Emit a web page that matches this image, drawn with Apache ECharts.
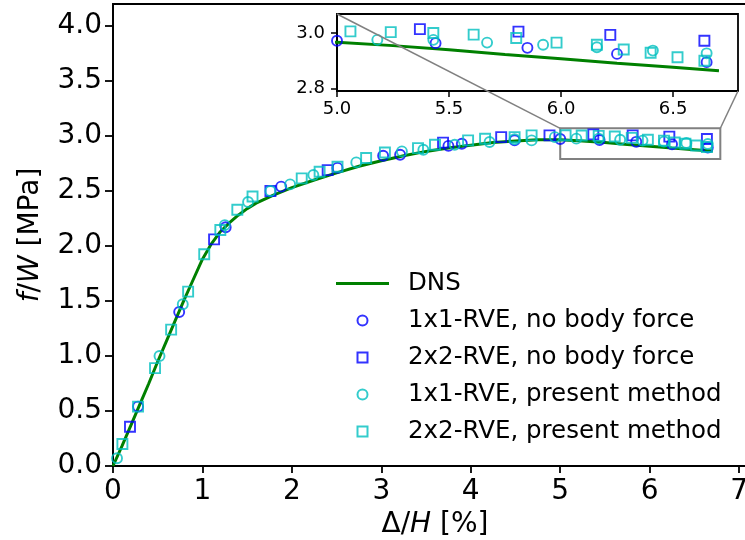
<!DOCTYPE html>
<html>
<head>
<meta charset="utf-8">
<script src="https://cdn.jsdelivr.net/npm/echarts@6/dist/echarts.min.js"></script>
<style>
  html, body { margin: 0; padding: 0; background: #fff; }
  #chart { width: 745px; height: 540px; }
</style>
</head>
<body>
<div id="chart"></div>
<script>
// Reference DNS response: [Δ/H (%), f/W (MPa)]
const dnsCurve = [
  [0, 0], [0.1, 0.18], [0.2, 0.37], [0.3, 0.56], [0.4, 0.75], [0.5, 0.95],
  [0.6, 1.14], [0.7, 1.33], [0.8, 1.52], [0.9, 1.70], [1.0, 1.88], [1.1, 2.02],
  [1.2, 2.13], [1.3, 2.21], [1.4, 2.28], [1.5, 2.34], [1.6, 2.39], [1.8, 2.465],
  [2.0, 2.53], [2.25, 2.6], [2.5, 2.665], [2.75, 2.725], [3.0, 2.775], [3.25, 2.82],
  [3.5, 2.86], [3.75, 2.89], [4.0, 2.915], [4.25, 2.94], [4.5, 2.955], [4.75, 2.965],
  [5.0, 2.967], [5.25, 2.955], [5.5, 2.94], [5.75, 2.923], [6.0, 2.907],
  [6.25, 2.891], [6.5, 2.876], [6.705, 2.864]
];

// 1x1-RVE without body force
const rve1NoBodyForce = [
  [0.28, 0.54], [0.74, 1.40], [1.26, 2.17], [1.88, 2.54], [2.51, 2.71],
  [3.02, 2.82], [3.21, 2.83], [3.75, 2.91], [3.90, 2.93], [4.49, 2.96],
  [5.0, 2.973], [5.44, 2.964], [5.85, 2.947], [6.25, 2.925], [6.65, 2.895]
];

// 2x2-RVE without body force
const rve2NoBodyForce = [
  [0.19, 0.357], [1.13, 2.06], [1.76, 2.50], [2.40, 2.69], [3.69, 2.94],
  [4.34, 2.99], [4.88, 3.006], [5.37, 3.015], [5.81, 3.006], [6.22, 2.994],
  [6.64, 2.973]
];

// 1x1-RVE with the present method
const rve1Present = [
  [0.045, 0.07], [0.52, 1.0], [0.78, 1.47], [1.25, 2.19], [1.51, 2.40],
  [1.76, 2.50], [1.98, 2.56], [2.24, 2.645], [2.72, 2.76], [3.23, 2.86],
  [3.47, 2.875], [3.82, 2.92], [4.21, 2.945], [4.49, 2.97], [4.68, 2.96],
  [4.94, 2.99], [5.18, 2.976], [5.43, 2.976], [5.67, 2.966], [5.92, 2.958],
  [6.16, 2.949], [6.41, 2.937], [6.65, 2.927]
];

// 2x2-RVE with the present method
const rve2Present = [
  [0.105, 0.2], [0.28, 0.54], [0.47, 0.89], [0.65, 1.24], [0.84, 1.585],
  [1.02, 1.925], [1.2, 2.145], [1.39, 2.33], [1.56, 2.45], [2.11, 2.615],
  [2.31, 2.675], [2.51, 2.72], [2.83, 2.80], [3.04, 2.85], [3.41, 2.89],
  [3.60, 2.92], [3.97, 2.96], [4.16, 2.975], [4.49, 2.99], [4.68, 3.006],
  [5.06, 3.007], [5.24, 3.004], [5.43, 3.001], [5.61, 2.995], [5.80, 2.983],
  [5.98, 2.966], [6.16, 2.958], [6.28, 2.941], [6.40, 2.929], [6.52, 2.913],
  [6.64, 2.90]
];

const xTicks = [0, 1, 2, 3, 4, 5, 6, 7];
const yTicks = [0, 0.5, 1.0, 1.5, 2.0, 2.5, 3.0, 3.5, 4.0];
const insetXTicks = [5.0, 5.5, 6.0, 6.5];
const insetYTicks = [2.8, 3.0];
const zoomX = [5.0, 6.79];
const zoomY = [2.79, 3.07];

const FONT = 'DejaVu Sans';
const BLUE = '#0000ff';
const CYAN = '#00bfbf';
const GREEN = '#008000';
const NONE = 'rgba(0,0,0,0)';
const SQUARE_ICON = 'path://M0,0L10,0L10,10L0,10Z';
const LINE_ICON = 'path://M0,0L53,0L53,3L0,3Z';

const names = [
  'DNS',
  '1x1-RVE, no body force',
  '2x2-RVE, no body force',
  '1x1-RVE, present method',
  '2x2-RVE, present method'
];

function scatter(name, data, symbol, color, grid) {
  return {
    type: 'scatter', name, data,
    xAxisIndex: grid, yAxisIndex: grid,
    symbol, symbolSize: 10,
    itemStyle: { color: NONE, borderColor: color, borderWidth: 1.9 },
    emphasis: { disabled: true }, clip: true, z: 3
  };
}

function dnsLine(grid, extra) {
  return Object.assign({
    type: 'line', name: 'DNS', data: dnsCurve,
    xAxisIndex: grid, yAxisIndex: grid,
    showSymbol: false, symbol: 'none',
    lineStyle: { color: GREEN, width: 3 },
    itemStyle: { color: GREEN },
    emphasis: { disabled: true }, clip: true, z: 2
  }, extra || {});
}

function markers(grid) {
  return [
    scatter(names[1], rve1NoBodyForce, 'circle', BLUE, grid),
    scatter(names[2], rve2NoBodyForce, 'rect', BLUE, grid),
    scatter(names[3], rve1Present, 'circle', CYAN, grid),
    scatter(names[4], rve2Present, 'rect', CYAN, grid)
  ];
}

const tickLabel = (size) => ({
  fontFamily: FONT, fontSize: size, color: '#000'
});

const axisLine = { show: true, onZero: false, lineStyle: { color: '#000', width: 1.8 } };

const chart = echarts.init(document.getElementById('chart'), null, { renderer: 'canvas' });

chart.setOption({
  animation: false,
  backgroundColor: '#fff',
  grid: [
    { left: 113, top: 4, width: 644, height: 462, show: true, outerBoundsMode: 'none',
      containLabel: false, borderColor: '#000', borderWidth: 1.8, backgroundColor: NONE },
    { left: 337, top: 14, width: 401, height: 77, show: true, outerBoundsMode: 'none',
      containLabel: false, borderColor: '#000', borderWidth: 1.8, backgroundColor: '#fff', z: 5 }
  ],
  xAxis: [
    { type: 'value', gridIndex: 0, min: 0, max: 7.2,
      axisLine,
      axisTick: { show: true, length: 7, lineStyle: { color: '#000', width: 1.8 }, customValues: xTicks },
      axisLabel: Object.assign(tickLabel(28), { margin: 12, customValues: xTicks, formatter: v => String(v) }),
      splitLine: { show: false },
      name: 'Δ/{i|H} [%]', nameLocation: 'middle', nameGap: 43,
      nameTextStyle: { fontFamily: FONT, fontSize: 28, color: '#000',
        rich: { i: { fontFamily: FONT, fontSize: 28, fontStyle: 'italic', color: '#000' } } }
    },
    { type: 'value', gridIndex: 1, min: zoomX[0], max: zoomX[1],
      axisLine,
      axisTick: { show: true, length: 6, lineStyle: { color: '#000', width: 1.5 }, customValues: insetXTicks },
      axisLabel: Object.assign(tickLabel(18), { margin: 9, customValues: insetXTicks, formatter: v => v.toFixed(1) }),
      splitLine: { show: false }, z: 6
    }
  ],
  yAxis: [
    { type: 'value', gridIndex: 0, min: 0, max: 4.2,
      axisLine,
      axisTick: { show: true, length: 8, lineStyle: { color: '#000', width: 1.8 }, customValues: yTicks },
      axisLabel: Object.assign(tickLabel(28), { margin: 11, customValues: yTicks, formatter: v => v.toFixed(1) }),
      splitLine: { show: false },
      name: '{i|f}/{i|W} [MPa]', nameLocation: 'middle', nameGap: 68, nameRotate: 90,
      nameTextStyle: { fontFamily: FONT, fontSize: 28, color: '#000',
        rich: { i: { fontFamily: FONT, fontSize: 28, fontStyle: 'italic', color: '#000' } } }
    },
    { type: 'value', gridIndex: 1, min: zoomY[0], max: zoomY[1],
      axisLine,
      axisTick: { show: true, length: 6, lineStyle: { color: '#000', width: 1.5 }, customValues: insetYTicks },
      axisLabel: Object.assign(tickLabel(18), { margin: 12, customValues: insetYTicks, formatter: v => v.toFixed(1) }),
      splitLine: { show: false }, z: 6
    }
  ],
  legend: {
    orient: 'vertical', left: 336, top: 271, padding: 0,
    itemWidth: 53, itemHeight: 10, itemGap: 12,
    selectedMode: false,
    textStyle: { fontFamily: FONT, fontSize: 24.5, lineHeight: 24, color: '#000', padding: [0, 0, 0, 14] },
    data: [
      { name: names[0], icon: LINE_ICON, itemStyle: { color: GREEN } },
      { name: names[1], icon: 'circle' },
      { name: names[2], icon: SQUARE_ICON },
      { name: names[3], icon: 'circle' },
      { name: names[4], icon: SQUARE_ICON }
    ]
  },
  series: [
    dnsLine(0, {
      markArea: {
        silent: true,
        itemStyle: { color: NONE, borderColor: '#808080', borderWidth: 2 },
        data: [[{ coord: [zoomX[0], zoomY[0]] }, { coord: [zoomX[1], zoomY[1]] }]]
      }
    }),
    ...markers(0),
    dnsLine(1, { z: 7 }),
    ...markers(1).map(s => Object.assign(s, { z: 8 }))
  ]
});

// Connector lines between the zoom window and the inset frame
const a0 = chart.convertToPixel({ gridIndex: 0 }, [zoomX[0], zoomY[1]]);
const a1 = chart.convertToPixel({ gridIndex: 1 }, [zoomX[0], zoomY[1]]);
const b0 = chart.convertToPixel({ gridIndex: 0 }, [zoomX[1], zoomY[1]]);
const b1 = chart.convertToPixel({ gridIndex: 1 }, [zoomX[1], zoomY[0]]);
chart.setOption({
  graphic: [
    { type: 'line', z: 100, silent: true,
      shape: { x1: a0[0], y1: a0[1], x2: a1[0], y2: a1[1] },
      style: { stroke: '#808080', lineWidth: 1.5 } },
    { type: 'line', z: 100, silent: true,
      shape: { x1: b0[0], y1: b0[1], x2: b1[0], y2: b1[1] },
      style: { stroke: '#808080', lineWidth: 1.5 } }
  ]
});
</script>
</body>
</html>
